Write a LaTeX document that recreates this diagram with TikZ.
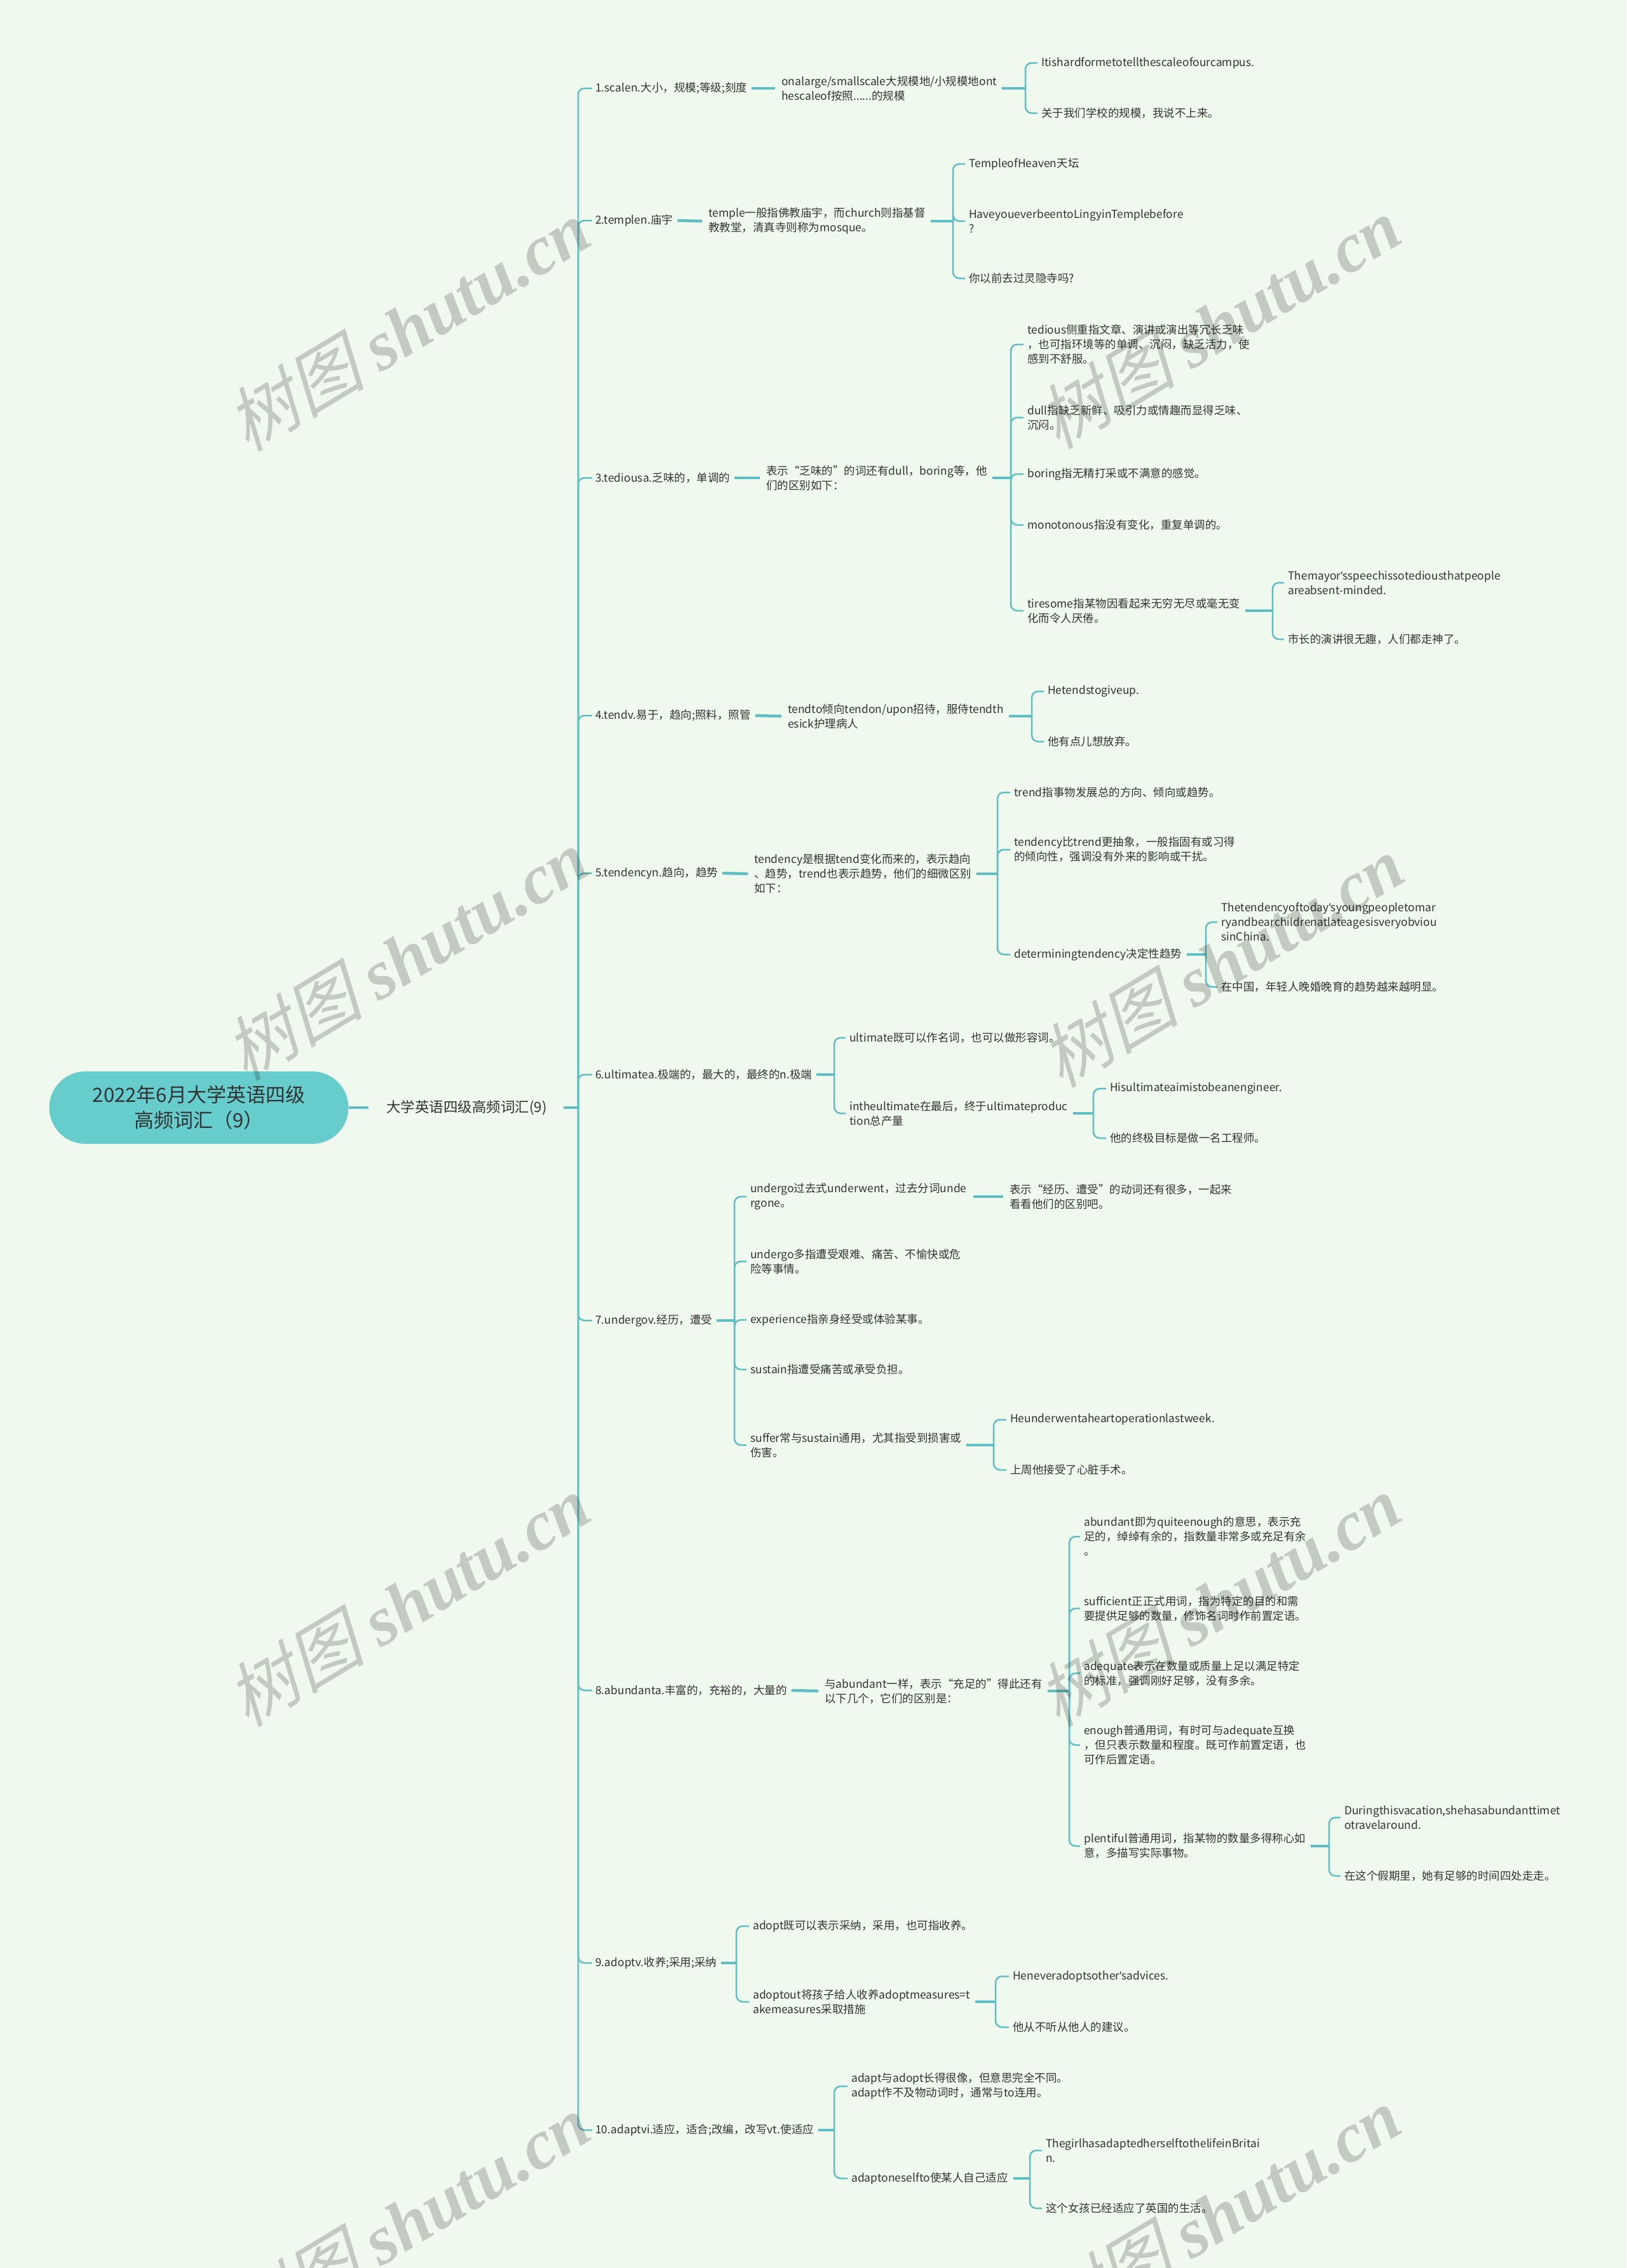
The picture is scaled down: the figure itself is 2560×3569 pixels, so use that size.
\documentclass[tikz,border=0pt]{standalone}
\usepackage{fontspec}
\setmainfont{Noto Sans CJK SC}
\newfontfamily\wmcjk{Noto Sans CJK SC}[FakeSlant=0.25]
\newfontfamily\wmlat{Liberation Serif}
\newfontfamily\apfont{Noto Sans}
\newcommand\mkap{{\apfont ’}}
\usetikzlibrary{calc}

\definecolor{bgmint}{RGB}{240,249,238}
\definecolor{rootteal}{RGB}{102,204,204}
\definecolor{linkteal}{RGB}{95,190,196}
\definecolor{inkgray}{RGB}{51,51,51}

\begin{document}
\begin{tikzpicture}[
        x=1pt, y=-1pt,
        rootbox/.style={
            fill=rootteal,
            rounded corners=57,
            minimum width=471,
            minimum height=114,
            inner sep=0pt,
            align=center,
            text=inkgray,
            font=\fontsize{31}{40}\selectfont
        },
        topic/.style={anchor=west, inner sep=0pt, align=left, text=inkgray,
            font=\fontsize{22.5}{29}\selectfont},
        leaf/.style={anchor=west, inner sep=0pt, align=left, text=inkgray,
            font=\fontsize{17.5}{23}\selectfont},
        stubline/.style={draw=linkteal, line width=4.5},
        branch/.style={draw=linkteal, line width=2.5, rounded corners=10},
        wmtext/.style={rotate=31, text=black, text opacity=0.19,
            font=\fontsize{110}{110}\selectfont}
    ]

    \path[fill=bgmint, use as bounding box] (0,0) rectangle (2560,3569);

    \node[rootbox] (root) at (313,1743) {2022年6月大学英语四级\\高频词汇（9）};
    \node[topic] (l1) at (608,1743) {大学英语四级高频词汇(9)};

    \node[leaf] (b1) at (937,139) {1.scalen.大小，规模;等级;刻度};
    \node[leaf] (b2) at (937,347) {2.templen.庙宇};
    \node[leaf] (b3) at (937,752) {3.tediousa.乏味的，单调的};
    \node[leaf] (b4) at (937,1126) {4.tendv.易于，趋向;照料，照管};
    \node[leaf] (b5) at (937,1374) {5.tendencyn.趋向，趋势};
    \node[leaf] (b6) at (937,1691) {6.ultimatea.极端的，最大的，最终的n.极端};
    \node[leaf] (b7) at (937,2078) {7.undergov.经历，遭受};
    \node[leaf] (b8) at (937,2660) {8.abundanta.丰富的，充裕的，大量的};
    \node[leaf] (b9) at (937,3089) {9.adoptv.收养;采用;采纳};
    \node[leaf] (b10) at (937,3352) {10.adaptvi.适应，适合;改编，改写vt.使适应};

    \node[leaf] (b1a) at (1230,139) {onalarge/smallscale大规模地/小规模地ont\\hescaleof按照......的规模};
    \node[leaf] (b1a1) at (1639,99) {Itishardformetotellthescaleofourcampus.};
    \node[leaf] (b1a2) at (1639,178) {关于我们学校的规模，我说不上来。};

    \node[leaf] (b2a) at (1115,348) {temple一般指佛教庙宇，而church则指基督\\教教堂，清真寺则称为mosque。};
    \node[leaf] (b2a1) at (1525,258) {TempleofHeaven天坛};
    \node[leaf] (b2a2) at (1525,348) {HaveyoueverbeentoLingyinTemplebefore\\?};
    \node[leaf] (b2a3) at (1525,438) {你以前去过灵隐寺吗?};

    \node[leaf] (b3a) at (1206,752) {表示“乏味的”的词还有dull，boring等，他\\们的区别如下：};
    \node[leaf] (b3a1) at (1617,542) {tedious侧重指文章、演讲或演出等冗长乏味\\，也可指环境等的单调、沉闷，缺乏活力，使\\感到不舒服。};
    \node[leaf] (b3a2) at (1617,657) {dull指缺乏新鲜、吸引力或情趣而显得乏味、\\沉闷。};
    \node[leaf] (b3a3) at (1617,746) {boring指无精打采或不满意的感觉。};
    \node[leaf] (b3a4) at (1617,826) {monotonous指没有变化，重复单调的。};
    \node[leaf] (b3a5) at (1617,961) {tiresome指某物因看起来无穷无尽或毫无变\\化而令人厌倦。};
    \node[leaf] (b3a5a) at (2027,917) {Themayor\mkap sspeechissotediousthatpeople\\areabsent-minded.};
    \node[leaf] (b3a5b) at (2027,1006) {市长的演讲很无趣，人们都走神了。};

    \node[leaf] (b4a) at (1240,1127) {tendto倾向tendon/upon招待，服侍tendth\\esick护理病人};
    \node[leaf] (b4a1) at (1649,1088) {Hetendstogiveup.};
    \node[leaf] (b4a2) at (1649,1167) {他有点儿想放弃。};

    \node[leaf] (b5a) at (1187,1375) {tendency是根据tend变化而来的，表示趋向\\、趋势，trend也表示趋势，他们的细微区别\\如下：};
    \node[leaf] (b5a1) at (1596,1247) {trend指事物发展总的方向、倾向或趋势。};
    \node[leaf] (b5a2) at (1596,1337) {tendency比trend更抽象，一般指固有或习得\\的倾向性，强调没有外来的影响或干扰。};
    \node[leaf] (b5a3) at (1596,1502) {determiningtendency决定性趋势};
    \node[leaf] (b5a3a) at (1922,1451) {Thetendencyoftoday\mkap syoungpeopletomar\\ryandbearchildrenatlateagesisveryobviou\\sinChina.};
    \node[leaf] (b5a3b) at (1922,1553) {在中国，年轻人晚婚晚育的趋势越来越明显。};

    \node[leaf] (b6a) at (1337,1633) {ultimate既可以作名词，也可以做形容词。};
    \node[leaf] (b6b) at (1337,1752) {intheultimate在最后，终于ultimateproduc\\tion总产量};
    \node[leaf] (b6b1) at (1747,1713) {Hisultimateaimistobeanengineer.};
    \node[leaf] (b6b2) at (1747,1791) {他的终极目标是做一名工程师。};

    \node[leaf] (b7a) at (1181,1883) {undergo过去式underwent，过去分词unde\\rgone。};
    \node[leaf] (b7a1) at (1589,1883) {表示“经历、遭受”的动词还有很多，一起来\\看看他们的区别吧。};
    \node[leaf] (b7b) at (1181,1985) {undergo多指遭受艰难、痛苦、不愉快或危\\险等事情。};
    \node[leaf] (b7c) at (1181,2077) {experience指亲身经受或体验某事。};
    \node[leaf] (b7d) at (1181,2155) {sustain指遭受痛苦或承受负担。};
    \node[leaf] (b7e) at (1181,2274) {suffer常与sustain通用，尤其指受到损害或\\伤害。};
    \node[leaf] (b7e1) at (1590,2234) {Heunderwentaheartoperationlastweek.};
    \node[leaf] (b7e2) at (1590,2313) {上周他接受了心脏手术。};

    \node[leaf] (b8a) at (1298,2661) {与abundant一样，表示“充足的”得此还有\\以下几个，它们的区别是：};
    \node[leaf] (b8a1) at (1706,2418) {abundant即为quiteenough的意思，表示充\\足的，绰绰有余的，指数量非常多或充足有余\\。};
    \node[leaf] (b8a2) at (1706,2531) {sufficient正正式用词，指为特定的目的和需\\要提供足够的数量，修饰名词时作前置定语。};
    \node[leaf] (b8a3) at (1706,2633) {adequate表示在数量或质量上足以满足特定\\的标准，强调刚好足够，没有多余。};
    \node[leaf] (b8a4) at (1706,2746) {enough普通用词，有时可与adequate互换\\，但只表示数量和程度。既可作前置定语，也\\可作后置定语。};
    \node[leaf] (b8a5) at (1706,2905) {plentiful普通用词，指某物的数量多得称心如\\意，多描写实际事物。};
    \node[leaf] (b8a5a) at (2116,2860) {Duringthisvacation,shehasabundanttimet\\otravelaround.};
    \node[leaf] (b8a5b) at (2116,2952) {在这个假期里，她有足够的时间四处走走。};

    \node[leaf] (b9a) at (1185,3031) {adopt既可以表示采纳，采用，也可指收养。};
    \node[leaf] (b9b) at (1185,3150) {adoptout将孩子给人收养adoptmeasures=t\\akemeasures采取措施};
    \node[leaf] (b9b1) at (1594,3110) {Heneveradoptsother\mkap sadvices.};
    \node[leaf] (b9b2) at (1594,3190) {他从不听从他人的建议。};

    \node[leaf] (b10a) at (1340,3283) {adapt与adopt长得很像，但意思完全不同。\\adapt作不及物动词时，通常与to连用。};
    \node[leaf] (b10b) at (1340,3428) {adaptoneselfto使某人自己适应};
    \node[leaf] (b10b1) at (1646,3384) {ThegirlhasadaptedherselftothelifeinBritai\\n.};
    \node[leaf] (b10b2) at (1646,3475) {这个女孩已经适应了英国的生活。};

    \coordinate (sp) at ($(b1.west |- l1.east)+(-27,0)$);
    \coordinate (k1) at ($(b1a1.west |- b1a.east)+(-25,0)$);
    \coordinate (k2) at ($(b2a1.west |- b2a.east)+(-25,0)$);
    \coordinate (k3) at ($(b3a1.west |- b3a.east)+(-26,0)$);
    \coordinate (k3e) at ($(b3a5a.west |- b3a5.east)+(-24,0)$);
    \coordinate (k4) at ($(b4a1.west |- b4a.east)+(-25,0)$);
    \coordinate (k5) at ($(b5a1.west |- b5a.east)+(-26,0)$);
    \coordinate (k5c) at ($(b5a3a.west |- b5a3.east)+(-24,0)$);
    \coordinate (k6) at ($(b6a.west |- b6.east)+(-24,0)$);
    \coordinate (k6b) at ($(b6b1.west |- b6b.east)+(-26,0)$);
    \coordinate (k7) at ($(b7a.west |- b7.east)+(-25,0)$);
    \coordinate (k7e) at ($(b7e1.west |- b7e.east)+(-26,0)$);
    \coordinate (k8) at ($(b8a1.west |- b8a.east)+(-23,0)$);
    \coordinate (k8e) at ($(b8a5a.west |- b8a5.east)+(-24,0)$);
    \coordinate (k9) at ($(b9a.west |- b9.east)+(-26,0)$);
    \coordinate (k9b) at ($(b9b1.west |- b9b.east)+(-27,0)$);
    \coordinate (k10) at ($(b10a.west |- b10.east)+(-27,0)$);
    \coordinate (k10b) at ($(b10b1.west |- b10b.east)+(-25,0)$);

    \draw[stubline] (root.east) -- ([xshift=-28]l1.west);
    \draw[stubline] ([xshift=26]l1.east) -- (sp);
    \draw[branch] (sp) |- ([xshift=-5]b1.west);
    \draw[branch] (sp) |- ([xshift=-5]b2.west);
    \draw[branch] (sp) |- ([xshift=-5]b3.west);
    \draw[branch] (sp) |- ([xshift=-5]b4.west);
    \draw[branch] (sp) |- ([xshift=-5]b5.west);
    \draw[branch] (sp) |- ([xshift=-5]b6.west);
    \draw[branch] (sp) |- ([xshift=-5]b7.west);
    \draw[branch] (sp) |- ([xshift=-5]b8.west);
    \draw[branch] (sp) |- ([xshift=-5]b9.west);
    \draw[branch] (sp) |- ([xshift=-5]b10.west);

    \draw[stubline] ([xshift=7]b1.east) -- ([xshift=-10]b1a.west);
    \draw[stubline] ([xshift=8]b1a.east) -- (k1);
    \draw[branch] (k1) |- ([xshift=-6]b1a1.west);
    \draw[branch] (k1) |- ([xshift=-6]b1a2.west);

    \draw[stubline] ([xshift=7]b2.east) -- ([xshift=-10]b2a.west);
    \draw[stubline] ([xshift=8]b2a.east) -- (k2);
    \draw[branch] (k2) |- ([xshift=-6]b2a1.west);
    \draw[branch] (k2) |- ([xshift=-6]b2a2.west);
    \draw[branch] (k2) |- ([xshift=-6]b2a3.west);

    \draw[stubline] ([xshift=7]b3.east) -- ([xshift=-10]b3a.west);
    \draw[stubline] ([xshift=8]b3a.east) -- (k3);
    \draw[branch] (k3) |- ([xshift=-6]b3a1.west);
    \draw[branch] (k3) |- ([xshift=-6]b3a2.west);
    \draw[branch] (k3) |- ([xshift=-6]b3a3.west);
    \draw[branch] (k3) |- ([xshift=-6]b3a4.west);
    \draw[branch] (k3) |- ([xshift=-6]b3a5.west);
    \draw[stubline] ([xshift=8]b3a5.east) -- (k3e);
    \draw[branch] (k3e) |- ([xshift=-6]b3a5a.west);
    \draw[branch] (k3e) |- ([xshift=-6]b3a5b.west);

    \draw[stubline] ([xshift=7]b4.east) -- ([xshift=-10]b4a.west);
    \draw[stubline] ([xshift=8]b4a.east) -- (k4);
    \draw[branch] (k4) |- ([xshift=-6]b4a1.west);
    \draw[branch] (k4) |- ([xshift=-6]b4a2.west);

    \draw[stubline] ([xshift=7]b5.east) -- ([xshift=-10]b5a.west);
    \draw[stubline] ([xshift=8]b5a.east) -- (k5);
    \draw[branch] (k5) |- ([xshift=-6]b5a1.west);
    \draw[branch] (k5) |- ([xshift=-6]b5a2.west);
    \draw[branch] (k5) |- ([xshift=-6]b5a3.west);
    \draw[stubline] ([xshift=8]b5a3.east) -- (k5c);
    \draw[branch] (k5c) |- ([xshift=-6]b5a3a.west);
    \draw[branch] (k5c) |- ([xshift=-6]b5a3b.west);

    \draw[stubline] ([xshift=7]b6.east) -- (k6);
    \draw[branch] (k6) |- ([xshift=-6]b6a.west);
    \draw[branch] (k6) |- ([xshift=-6]b6b.west);
    \draw[stubline] ([xshift=8]b6b.east) -- (k6b);
    \draw[branch] (k6b) |- ([xshift=-6]b6b1.west);
    \draw[branch] (k6b) |- ([xshift=-6]b6b2.west);

    \draw[stubline] ([xshift=7]b7.east) -- (k7);
    \draw[branch] (k7) |- ([xshift=-6]b7a.west);
    \draw[branch] (k7) |- ([xshift=-6]b7b.west);
    \draw[branch] (k7) |- ([xshift=-6]b7c.west);
    \draw[branch] (k7) |- ([xshift=-6]b7d.west);
    \draw[branch] (k7) |- ([xshift=-6]b7e.west);
    \draw[stubline] ([xshift=10]b7a.east) -- ([xshift=-10]b7a1.west);
    \draw[stubline] ([xshift=8]b7e.east) -- (k7e);
    \draw[branch] (k7e) |- ([xshift=-6]b7e1.west);
    \draw[branch] (k7e) |- ([xshift=-6]b7e2.west);

    \draw[stubline] ([xshift=7]b8.east) -- ([xshift=-10]b8a.west);
    \draw[stubline] ([xshift=8]b8a.east) -- (k8);
    \draw[branch] (k8) |- ([xshift=-6]b8a1.west);
    \draw[branch] (k8) |- ([xshift=-6]b8a2.west);
    \draw[branch] (k8) |- ([xshift=-6]b8a3.west);
    \draw[branch] (k8) |- ([xshift=-6]b8a4.west);
    \draw[branch] (k8) |- ([xshift=-6]b8a5.west);
    \draw[stubline] ([xshift=8]b8a5.east) -- (k8e);
    \draw[branch] (k8e) |- ([xshift=-6]b8a5a.west);
    \draw[branch] (k8e) |- ([xshift=-6]b8a5b.west);

    \draw[stubline] ([xshift=7]b9.east) -- (k9);
    \draw[branch] (k9) |- ([xshift=-6]b9a.west);
    \draw[branch] (k9) |- ([xshift=-6]b9b.west);
    \draw[stubline] ([xshift=8]b9b.east) -- (k9b);
    \draw[branch] (k9b) |- ([xshift=-6]b9b1.west);
    \draw[branch] (k9b) |- ([xshift=-6]b9b2.west);

    \draw[stubline] ([xshift=7]b10.east) -- (k10);
    \draw[branch] (k10) |- ([xshift=-6]b10a.west);
    \draw[branch] (k10) |- ([xshift=-6]b10b.west);
    \draw[stubline] ([xshift=8]b10b.east) -- (k10b);
    \draw[branch] (k10b) |- ([xshift=-6]b10b1.west);
    \draw[branch] (k10b) |- ([xshift=-6]b10b2.west);

    \foreach \wx/\wy [count=\i] in {642/512,1918/508,639/1502,1923/1513,642/2519,1918/2519,642/3493,1918/3482}
        \node[wmtext] (wm\i) at (\wx,\wy) {{\wmcjk 树图} {\wmlat\bfseries\itshape shutu.cn}};

    \end{tikzpicture}
\end{document}
